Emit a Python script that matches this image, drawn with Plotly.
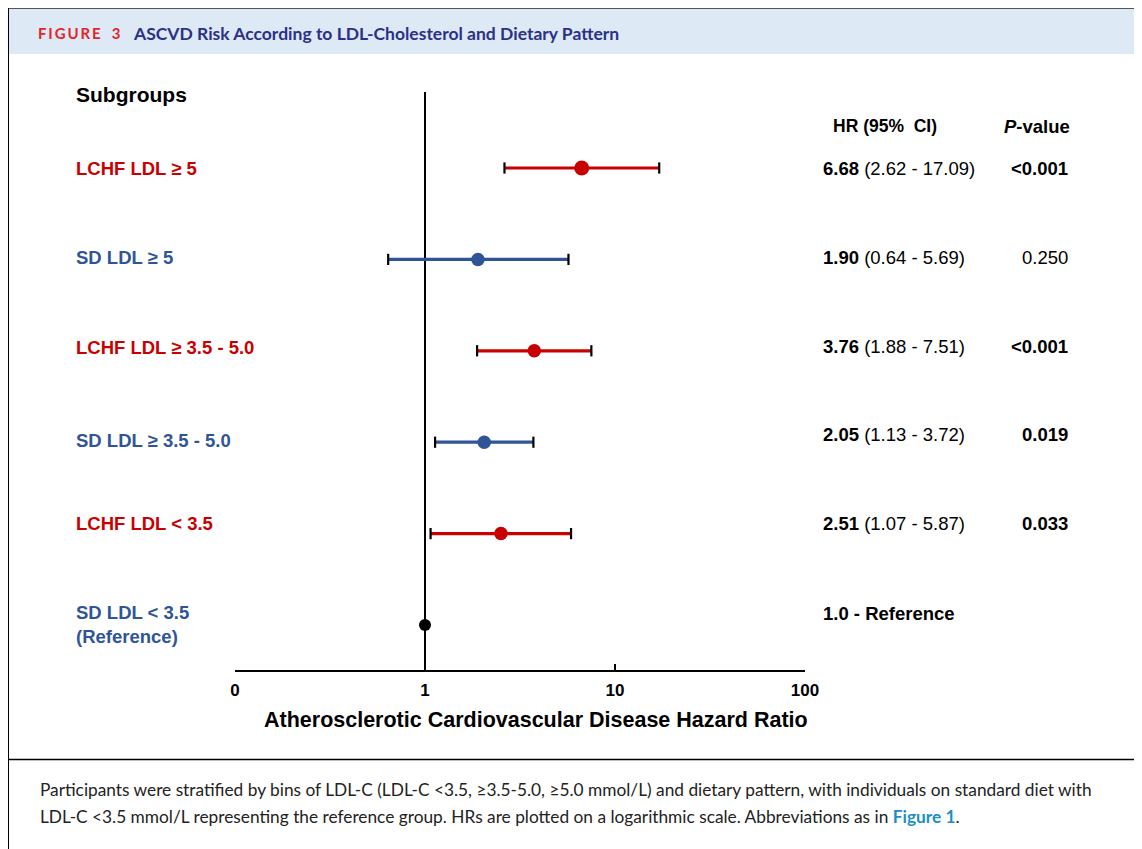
import plotly.graph_objects as go

# ---------------- data ----------------
labels = ["LCHF LDL ≥ 5", "SD LDL ≥ 5", "LCHF LDL ≥ 3.5 - 5.0",
          "SD LDL ≥ 3.5 - 5.0", "LCHF LDL < 3.5", "SD LDL < 3.5<br>(Reference)"]
diet = ["LCHF", "SD", "LCHF", "SD", "LCHF", "REF"]
hr = [6.68, 1.90, 3.76, 2.05, 2.51, 1.0]
ci_low = [2.62, 0.64, 1.88, 1.13, 1.07, None]
ci_high = [17.09, 5.69, 7.51, 3.72, 5.87, None]
hr_txt = ["6.68", "1.90", "3.76", "2.05", "2.51", "1.0"]
ci_txt = ["(2.62 - 17.09)", "(0.64 - 5.69)", "(1.88 - 7.51)", "(1.13 - 3.72)", "(1.07 - 5.87)", None]
p_values = ["<0.001", "0.250", "<0.001", "0.019", "0.033", None]
p_bold = [True, False, True, True, True, False]
tick_vals = [0.1, 1, 10, 100]
tick_text = ["0", "1", "10", "100"]
ref_value = 1.0

# ---------------- geometry helpers ----------------
OFF = 8  # page body margin
W, H = 1142 - OFF, 849 - OFF
PL, PR, PT, PB = 235 - OFF, 805 - OFF, 92 - OFF, 670 - OFF  # plot area (figure px)
n = len(labels)
ypos = list(range(n, 0, -1))          # 6..1
Y_RANGE = [1 - 45 / 91.4, n + 76 / 91.4]

def px(x):
    return (x - OFF - PL) / (PR - PL)

def py(y):
    return (PB - (y - OFF)) / (PB - PT)

RED = "#c80000"
BLUE = "#2f5597"
FONT = "Liberation Sans, Arial, sans-serif"
col = {"LCHF": RED, "SD": BLUE, "REF": "#000000"}

fig = go.Figure()

# reference line at HR = 1
fig.add_trace(go.Scatter(x=[ref_value, ref_value], y=Y_RANGE, mode="lines",
                         line=dict(color="black", width=2), hoverinfo="skip", showlegend=False))

for i in range(n):
    c = col[diet[i]]
    if ci_low[i] is not None:
        fig.add_trace(go.Scatter(x=[ci_low[i], ci_high[i]], y=[ypos[i], ypos[i]], mode="lines",
                                 line=dict(color=c, width=3.2), showlegend=False, hoverinfo="skip"))
        fig.add_trace(go.Scatter(x=[ci_low[i], ci_high[i]], y=[ypos[i], ypos[i]], mode="markers",
                                 marker=dict(symbol="line-ns", size=8, color="black",
                                             line=dict(color="black", width=2.2)),
                                 showlegend=False, hoverinfo="skip"))
    size = 15 if i == 0 else (12 if diet[i] == "REF" else 13.5)
    fig.add_trace(go.Scatter(x=[hr[i]], y=[ypos[i]], mode="markers",
                             marker=dict(size=size, color=c, line=dict(width=0)),
                             showlegend=False, hoverinfo="skip"))

fig.update_xaxes(type="log", range=[-1, 2], tickvals=tick_vals, ticktext=tick_text,
                 showline=True, linecolor="black", linewidth=2, ticks="inside", ticklen=6,
                 tickwidth=2, tickcolor="black", showgrid=False, zeroline=False,
                 ticklabelstandoff=4,
                 tickfont=dict(family=FONT, size=17, color="black", weight="bold"))
fig.update_yaxes(range=Y_RANGE, visible=False, showgrid=False, zeroline=False)

ann = []
shapes = []

def text(x, y, t, size, color="black", xanchor="left", family=FONT, bold=False, italic=False):
    shift = {"left": -2, "right": 2, "center": 0}[xanchor]
    ann.append(dict(x=px(x), y=py(y), xref="paper", yref="paper", text=t, showarrow=False,
                    xanchor=xanchor, yanchor="middle", align="left", xshift=shift,
                    font=dict(family=family, size=size, color=color,
                              weight="bold" if bold else "normal",
                              style="italic" if italic else "normal")))

# frame, header band, separator
shapes.append(dict(type="rect", xref="paper", yref="paper", x0=px(9), x1=px(1138),
                   y0=py(54), y1=py(9), fillcolor="#dde9f5", line=dict(width=0), layer="below"))
shapes.append(dict(type="line", xref="paper", yref="paper", x0=px(7), x1=px(1139),
                   y0=py(8), y1=py(8), line=dict(color="#555555", width=2)))
shapes.append(dict(type="line", xref="paper", yref="paper", x0=px(8), x1=px(8),
                   y0=py(8), y1=py(849), line=dict(color="black", width=2)))
shapes.append(dict(type="line", xref="paper", yref="paper", x0=px(1139), x1=px(1139),
                   y0=py(8), y1=py(849), line=dict(color="black", width=2)))
shapes.append(dict(type="line", xref="paper", yref="paper", x0=px(8), x1=px(1139),
                   y0=py(759.5), y1=py(759.5), line=dict(color="black", width=1.3)))

# header
text(38, 33, "F\u2009I\u2009G\u2009U\u2009R\u2009E\u2002 3", 15, color="#e3242b",
     family="Lato, sans-serif", bold=True)
text(133, 33, "ASCVD Risk According to LDL-Cholesterol and Dietary Pattern", 17.5,
     color="#2b3088", family="Lato, sans-serif", bold=True)

# column headers
text(76, 95, "Subgroups", 21, bold=True)
text(833, 126, "HR (95%\u00a0\u00a0CI)", 17.5, bold=True)
text(1070, 126, "<i>P</i>-value", 18.5, bold=True, xanchor="right")

label_y = [168, 258, 347, 440, 523, 624]
stat_y = [168, 258, 346, 434, 523, 613]
for i in range(n):
    c = col[diet[i]] if diet[i] != "REF" else BLUE
    text(76, label_y[i], f"<b>{labels[i]}</b>", 18.5, color=c)
    if ci_txt[i] is not None:
        text(823, stat_y[i], f"<b>{hr_txt[i]}</b> {ci_txt[i]}", 18.5)
    else:
        text(823, stat_y[i], f"<b>{hr_txt[i]} - Reference</b>", 18.5)
    if p_values[i] is not None:
        pv = p_values[i].replace("<", "&lt;")
        text(1068, stat_y[i], f"<b>{pv}</b>" if p_bold[i] else pv, 18.5, xanchor="right")

# axis title
text(536, 720, "Atherosclerotic Cardiovascular Disease Hazard Ratio", 21.5, bold=True, xanchor="center")

# caption
cap1 = ("Participants were stratified by bins of LDL-C (LDL-C &lt;3.5, ≥3.5-5.0, ≥5.0 mmol/L) "
        "and dietary pattern, with individuals on standard diet with")
cap2 = ("LDL-C &lt;3.5 mmol/L representing the reference group. HRs are plotted on a logarithmic "
        "scale. Abbreviations as in <b><span style='color:#1b8ec8'>Figure 1</span></b>.")
text(40, 789, cap1, 17.3, color="#222222", family="Lato, sans-serif")
text(40, 816, cap2, 17.3, color="#222222", family="Lato, sans-serif")

fig.update_layout(width=W, height=H, margin=dict(l=PL, r=W - PR, t=PT, b=H - PB),
                  paper_bgcolor="white", plot_bgcolor="white",
                  annotations=ann, shapes=shapes, showlegend=False)

fig.write_html("out.html")
